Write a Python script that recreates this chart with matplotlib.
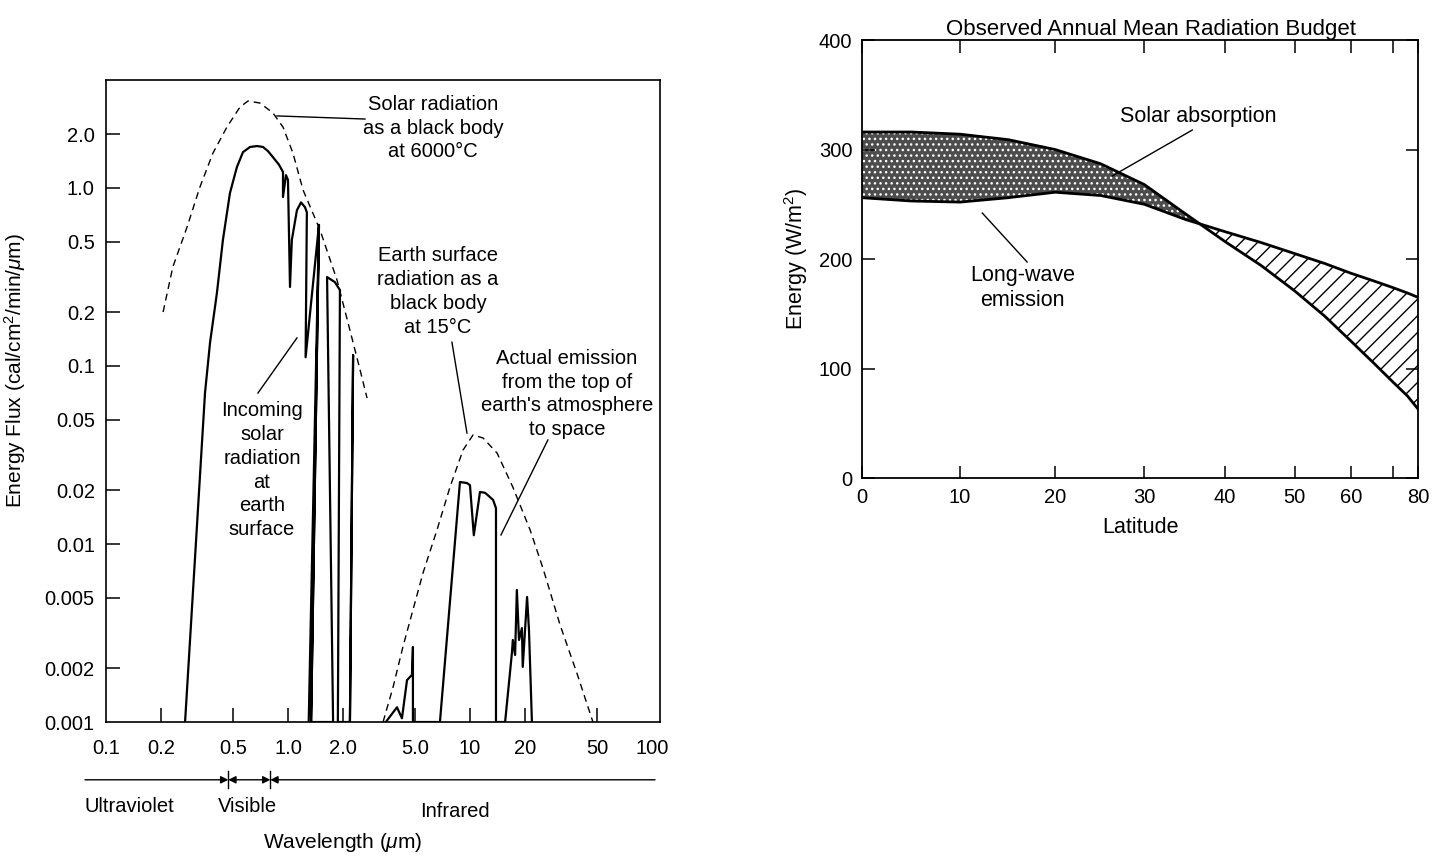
import numpy as np
import matplotlib
matplotlib.use("Agg")
import matplotlib.pyplot as plt
import matplotlib.transforms as mtransforms
from matplotlib.ticker import NullLocator

plt.rcParams["font.family"] = ["Liberation Sans", "DejaVu Sans"]
plt.rcParams["mathtext.fontset"] = "custom"
plt.rcParams["mathtext.rm"] = "Liberation Sans"
plt.rcParams["mathtext.it"] = "Liberation Sans:italic"
plt.rcParams["hatch.linewidth"] = 1.0

# --- spectrum panel: wavelength (um) vs energy flux (cal/cm2/min/um) ---
sun_bb_wl = [0.206, 0.233, 0.279, 0.328, 0.387, 0.462, 0.545, 0.603, 0.702, 0.827,
             0.939, 1.065, 1.21, 1.50, 1.86, 2.19, 2.49, 2.72]
sun_bb_flux = [0.201, 0.360, 0.604, 1.01, 1.57, 2.20, 2.85, 3.08, 3.00, 2.64,
               2.20, 1.57, 0.975, 0.581, 0.304, 0.159, 0.095, 0.066]

earth_bb_wl = [3.33, 3.78, 4.28, 4.86, 5.52, 6.59, 7.77, 9.16, 10.4, 11.8,
               14.1, 17.2, 21.4, 25.2, 31.3, 38.7, 47.4]
earth_bb_flux = [0.001, 0.00157, 0.00264, 0.00426, 0.00687, 0.0120, 0.0209, 0.0337,
                 0.0410, 0.0394, 0.0324, 0.0209, 0.0120, 0.0073, 0.0035, 0.00188, 0.001]

surface_wl = [0.272, 0.350, 0.373, 0.407, 0.439, 0.480, 0.524, 0.566, 0.619, 0.676,
              0.729, 0.777, 0.827, 0.893, 0.939, 0.939, 0.975, 1.0, 1.026, 1.05,
              1.12, 1.18, 1.24, 1.27, 1.25, 1.48, 1.30, 1.34, 1.48, 1.34,
              1.77, 1.64, 1.81, 1.93, 1.88, 2.19, 2.28, 2.19]
surface_flux = [0.001, 0.0705, 0.135, 0.257, 0.510, 0.937, 1.31, 1.59, 1.70, 1.72,
                1.70, 1.61, 1.49, 1.35, 1.23, 0.89, 1.18, 1.11, 0.278, 0.51,
                0.75, 0.83, 0.78, 0.73, 0.112, 0.62, 0.001, 0.001, 0.62, 0.001,
                0.001, 0.316, 0.296, 0.267, 0.001, 0.001, 0.115, 0.001]

space_wl = [3.45, 3.97, 4.23, 4.51, 4.80, 4.86, 4.86,
            6.84, 8.81, 9.64, 10.0, 10.5, 11.35, 12.1, 13.4, 13.9, 13.9,
            15.6, 17.0, 17.2, 17.7, 18.1, 18.6, 19.3, 19.5, 20.6, 21.1, 21.9]
space_flux = [0.001, 0.00121, 0.00105, 0.00172, 0.00184, 0.00264, 0.001,
              0.001, 0.0223, 0.0220, 0.0214, 0.0112, 0.0196, 0.0194, 0.0177, 0.0159, 0.001,
              0.001, 0.00244, 0.00289, 0.00238, 0.00552, 0.00289, 0.00337, 0.00204,
              0.00504, 0.00329, 0.001]

wl_ticks = [0.1, 0.2, 0.5, 1.0, 2.0, 5.0, 10, 20, 50, 100]
wl_labels = ["0.1", "0.2", "0.5", "1.0", "2.0", "5.0", "10", "20", "50", "100"]
flux_ticks = [0.001, 0.002, 0.005, 0.01, 0.02, 0.05, 0.1, 0.2, 0.5, 1.0, 2.0]
flux_labels = ["0.001", "0.002", "0.005", "0.01", "0.02", "0.05", "0.1", "0.2", "0.5", "1.0", "2.0"]

visible_band = [0.47, 0.80]

# --- radiation budget panel: latitude (deg) vs energy (W/m2) ---
lat_deg = [0, 5, 10, 15, 20, 25, 30, 35, 40, 45, 50, 55, 60, 65, 70, 75, 80]
solar_abs = [316, 316, 314, 309, 300, 287, 268, 241, 216, 194, 171, 148, 125, 105, 88, 75, 63]
longwave = [256, 253, 252, 256, 261, 258, 250, 236, 225, 215, 205, 196, 187, 180, 174, 169, 165]

lat_ticks = [0, 10, 20, 30, 40, 50, 60, 70, 80]
lat_labels = ["0", "10", "20", "30", "40", "50", "60", "", "80"]
energy_ticks = [0, 100, 200, 300, 400]


def sin_fwd(x):
    return np.sin(np.radians(np.clip(x, -90, 90)))


def sin_inv(s):
    return np.degrees(np.arcsin(np.clip(s, -1, 1)))


fig = plt.figure(figsize=(14.36, 8.57), dpi=100)

# ---------------- left: spectrum ----------------
ax1 = fig.add_axes([0.0738, 0.1575, 0.3858, 0.7491])
ax1.set_xscale("log")
ax1.set_yscale("log")
ax1.set_xlim(0.1, 110.7)
ax1.set_ylim(0.001, 4.04)

dash = (0, (5, 3.5))
ax1.plot(sun_bb_wl, sun_bb_flux, color="k", lw=1.0, ls=dash)
ax1.plot(earth_bb_wl, earth_bb_flux, color="k", lw=1.0, ls=dash, clip_on=False)
ax1.plot(surface_wl, surface_flux, color="k", lw=1.6)
ax1.plot(space_wl, space_flux, color="k", lw=1.6)

ax1.set_xticks(wl_ticks)
ax1.set_xticklabels(wl_labels)
ax1.set_yticks(flux_ticks)
ax1.set_yticklabels(flux_labels)
ax1.xaxis.set_minor_locator(NullLocator())
ax1.yaxis.set_minor_locator(NullLocator())
ax1.tick_params(direction="in", length=10, width=1.1, labelsize=14.5, pad=8)
ax1.tick_params(axis="x", pad=12)
for t in (ax1.xaxis.get_major_ticks()[0], ax1.xaxis.get_major_ticks()[-1],
          ax1.yaxis.get_major_ticks()[0]):
    t.tick1line.set_visible(False)
for sp in ax1.spines.values():
    sp.set_linewidth(1.2)

ax1.set_ylabel("Energy Flux (cal/cm$^2$/min/$\\mu$m)", fontsize=15)
ax1.yaxis.set_label_coords(-0.141, 0.548)

txt = dict(fontsize=14.5, ha="center", va="center", linespacing=1.32)
thin = dict(color="k", lw=1.0)
ax1.text(6.26, 2.17, "Solar radiation\nas a black body\nat 6000°C", **txt)
ax1.plot([0.87, 2.65], [2.54, 2.44], **thin)
ax1.text(6.67, 0.262, "Earth surface\nradiation as a\nblack body\nat 15°C", **txt)
ax1.plot([7.96, 9.63], [0.136, 0.042], **thin)
ax1.text(34.1, 0.0696, "Actual emission\nfrom the top of\nearth's atmosphere\nto space", **txt)
ax1.plot([26.8, 14.8], [0.0384, 0.01124], **thin)
ax1.text(0.72, 0.026, "Incoming\nsolar\nradiation\nat\nearth\nsurface", **txt)
ax1.plot([0.684, 1.12], [0.0705, 0.1437], **thin)

# wavelength bands under the axis
trans = mtransforms.blended_transform_factory(ax1.transData, ax1.transAxes)
band_y = -0.09
head = dict(color="k", lw=1.0, mutation_scale=11, shrinkA=0, shrinkB=0)
ax1.annotate("", xy=(visible_band[0], band_y), xytext=(0.0767, band_y),
             xycoords=trans, textcoords=trans, annotation_clip=False,
             arrowprops=dict(arrowstyle="-|>", **head))
ax1.annotate("", xy=(visible_band[1], band_y), xytext=(visible_band[0], band_y),
             xycoords=trans, textcoords=trans, annotation_clip=False,
             arrowprops=dict(arrowstyle="<|-|>", **head))
ax1.annotate("", xy=(visible_band[1], band_y), xytext=(104, band_y),
             xycoords=trans, textcoords=trans, annotation_clip=False,
             arrowprops=dict(arrowstyle="-|>", **head))
for edge in visible_band:
    ax1.plot([edge, edge], [band_y - 0.013, band_y + 0.013], transform=trans,
             color="k", lw=1.0, clip_on=False)

ax1.text(0.043, -0.131, "Ultraviolet", transform=ax1.transAxes, fontsize=14.5,
         ha="center", va="center")
ax1.text(0.256, -0.131, "Visible", transform=ax1.transAxes, fontsize=14.5,
         ha="center", va="center")
ax1.text(0.630, -0.140, "Infrared", transform=ax1.transAxes, fontsize=14.5,
         ha="center", va="center")
ax1.text(0.428, -0.188, "Wavelength ($\\mu$m)", transform=ax1.transAxes, fontsize=15,
         ha="center", va="center")

# ---------------- right: radiation budget ----------------
ax2 = fig.add_axes([0.6003, 0.4422, 0.3872, 0.5111])
ax2.set_xscale("function", functions=(sin_fwd, sin_inv))
ax2.set_xlim(0, 80)
ax2.set_ylim(0, 400)

lat = np.array(lat_deg, dtype=float)
sa = np.array(solar_abs, dtype=float)
lw_out = np.array(longwave, dtype=float)
ax2.fill_between(lat, lw_out, sa, where=sa >= lw_out, interpolate=True,
                 facecolor="0.3", edgecolor="white", hatch="...", linewidth=0)
ax2.fill_between(lat, sa, lw_out, where=sa <= lw_out, interpolate=True,
                 facecolor="white", edgecolor="k", hatch="//", linewidth=0)
ax2.plot(lat, sa, color="k", lw=2.0)
ax2.plot(lat, lw_out, color="k", lw=2.0)

ax2.set_xticks(lat_ticks)
ax2.set_xticklabels(lat_labels)
ax2.set_yticks(energy_ticks)
ax2.xaxis.set_minor_locator(NullLocator())
ax2.tick_params(direction="in", top=True, right=True, length=9, width=1.1,
                labelsize=14.5, pad=7)
for sp in ax2.spines.values():
    sp.set_linewidth(1.3)

ax2.text(0.52, 1.0, "Observed Annual Mean Radiation Budget", transform=ax2.transAxes,
         fontsize=16, ha="center", va="bottom")
ax2.set_ylabel("Energy (W/m$^2$)", fontsize=15.5)
ax2.yaxis.set_label_coords(-0.094, 0.5)
ax2.set_xlabel("Latitude", fontsize=15.5)
ax2.xaxis.set_label_coords(0.5, -0.09)

txt2 = dict(fontsize=15.5, ha="center", va="center", linespacing=1.2)
ax2.text(36.5, 330, "Solar absorption", **txt2)
ax2.plot([26.3, 35.8], [275.8, 317.8], **thin)
ax2.text(16.5, 173.5, "Long-wave\nemission", **txt2)
ax2.plot([12.3, 17.0], [242, 197.3], **thin)

fig.savefig("out.png", dpi=100)
